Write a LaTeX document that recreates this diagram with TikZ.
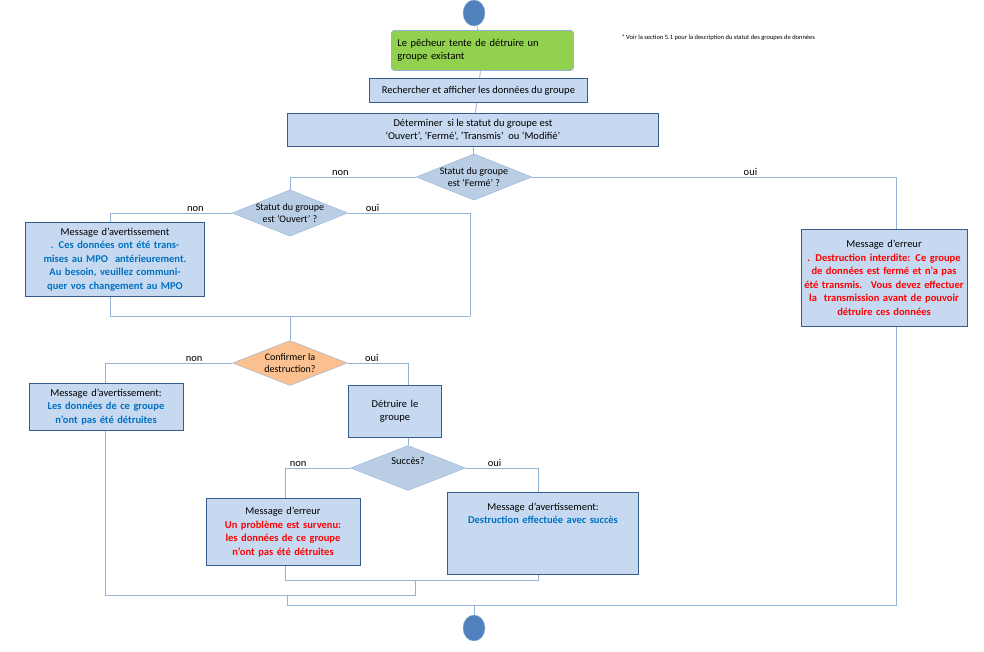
\documentclass[tikz,border=0pt]{standalone}
\usepackage{fontspec}
\setmainfont{Carlito}
\usetikzlibrary{positioning,shapes.geometric}
\definecolor{boxfill}{HTML}{C6D9F1}
\definecolor{boxline}{HTML}{385D8A}
\definecolor{wire}{HTML}{95B3D7}
\definecolor{dfill}{HTML}{B9CDE5}
\definecolor{okgreen}{HTML}{92D050}
\definecolor{askorange}{HTML}{FAC090}
\definecolor{dotblue}{HTML}{4F81BD}
\definecolor{txtblue}{HTML}{0070C0}
\newcommand{\bl}[1]{\textcolor{txtblue}{\bfseries #1}}
\newcommand{\rd}[1]{\textcolor{red}{\bfseries #1}}
\begin{document}
\begin{tikzpicture}[x=1pt, y=-1pt, font=\fontsize{10.5}{13.5}\selectfont]
\tikzstyle{box}=[draw=boxline, fill=boxfill, line width=0.8pt, inner sep=2pt, align=center, anchor=north west]
\tikzstyle{dec}=[diamond, draw=wire, fill=dfill, aspect=2.5, inner sep=0pt, align=center,
                 minimum width=115, minimum height=45]
\tikzstyle{dot}=[ellipse, draw=wire, fill=dotblue, minimum width=22, minimum height=26, inner sep=0pt]
\tikzstyle{wr}=[draw=wire, line width=0.8pt]
\tikzstyle{lbl}=[inner sep=1pt]
\useasboundingbox (0,0) rectangle (984,651);
% noeuds
\node[dot] (start) at (474,13) {};
\node[box, draw=wire, fill=okgreen, rounded corners=3pt, minimum width=182, minimum height=40, align=left, text width=170] (init) at (391,30)
  {Le pêcheur tente de détruire un\\groupe existant};
\node[box, minimum width=218, minimum height=24] (show) at (369,78) {Rechercher et afficher les données du groupe};
\node[box, minimum width=371, minimum height=33, inner sep=1pt] (stat) at (287,113)
  {Déterminer \ si le statut du groupe est\\‘Ouvert’, ’Fermé’, ’Transmis’ \ ou ‘Modifié’};
\node[dec, font=\fontsize{10}{12}\selectfont] (ferme) at (474,177) {Statut du groupe\\est ‘Fermé’ ?};
\node[dec, font=\fontsize{10}{12}\selectfont] (ouvert) at (290,213) {Statut du groupe\\est ‘Ouvert’ ?};
\node[box, text width=175, minimum height=74, anchor=north, inner sep=2pt] (warn1) at (115,222)
  {Message d’avertissement\\\bl{. Ces données ont été transmises au MPO \ antérieurement. Au besoin, veuillez communiquer vos changement au MPO}};
\node[box, text width=162, minimum height=97, anchor=north, inner sep=2pt] (err1) at (884,229)
  {Message d’erreur\\\rd{. Destruction interdite: Ce groupe de données est fermé et n’a pas été transmis. \ Vous devez effectuer la \ transmission avant de pouvoir\\ détruire ces données}};
\node[dec, fill=askorange, font=\fontsize{10}{12}\selectfont] (conf) at (290,363) {Confirmer la\\destruction?};
\node[box, text width=150, minimum height=47, anchor=north, inner sep=2pt] (warn2) at (106,383)
  {Message d’avertissement:\\\bl{Les données de ce groupe n’ont pas été détruites}};
\node[box, text width=89, minimum height=52, anchor=north, inner sep=2pt] (del) at (395,385) {Détruire le\\groupe};
\node[dec] (succ) at (408,468) {Succès?\\~};
\node[box, text width=150, minimum height=67, anchor=north, inner sep=2pt] (err2) at (283,498)
  {Message d’erreur\\\rd{Un problème est survenu: les données de ce groupe n’ont pas été détruites}};
\node[box, text width=187, minimum height=82, anchor=north, inner sep=2pt] (warn3) at (543,492)
  {Message d’avertissement:\\\bl{Destruction effectuée avec succès}\\~\\~\\~};
\node[dot] (stop) at (474,628) {};
\node[anchor=west, font=\fontsize{6.5}{8}\selectfont] (note) at (618,38)
  {* Voir la section 5.1 pour la description du statut des groupes de données};
% jonctions
\coordinate (j1) at (110,316); \coordinate (j1r) at (470,316);
\coordinate (j2) at (285,580); \coordinate (j2r) at (538,580);
\coordinate (j3) at (105,595); \coordinate (j3r) at (415,595);
\coordinate (j4) at (287,605); \coordinate (j4r) at (896,605);
% liaisons
\path[wr] (start) -- (init) (init) -- (show) (show) -- (stat) (stat) -- (ferme);
\path[wr] (ferme.west) -| node[lbl, pos=0.3, above]{non} (ouvert.north);
\path[wr] (ferme.east) -| node[lbl, pos=0.3, above]{oui} (896,229);
\path[wr] (ouvert.west) -| node[lbl, pos=0.15, above]{non} (warn1.north -| 110,0);
\path[wr] (ouvert.east) -| node[lbl, pos=0.1, above]{oui} (j1r);
\path[wr] (warn1.south -| j1) -- (j1) -- (j1r);
\path[wr] (j1 -| conf) -- (conf.north);
\path[wr] (conf.west) -| node[lbl, pos=0.15, above]{non} (warn2.north -| j3);
\path[wr] (conf.east) -| node[lbl, pos=0.2, above]{oui} (del.north -| succ);
\path[wr] (del.south -| succ) -- (succ.north);
\path[wr] (succ.west) -| node[lbl, pos=0.4, above]{non} (err2.north -| j2);
\path[wr] (succ.east) -| node[lbl, pos=0.2, above]{oui} (warn3.north -| j2r);
\path[wr] (err2.south -| j2) -- (j2) -- (j2r) -- (warn3.south -| j2r);
\path[wr] (j2 -| j3r) -- (j3r) -- (j3) -- (warn2.south -| j3);
\path[wr] (j3 -| j4) -- (j4) -- (j4r) -- (err1.south -| j4r);
\path[wr] (j4 -| stop) -- (stop.north);
\end{tikzpicture}
\end{document}
